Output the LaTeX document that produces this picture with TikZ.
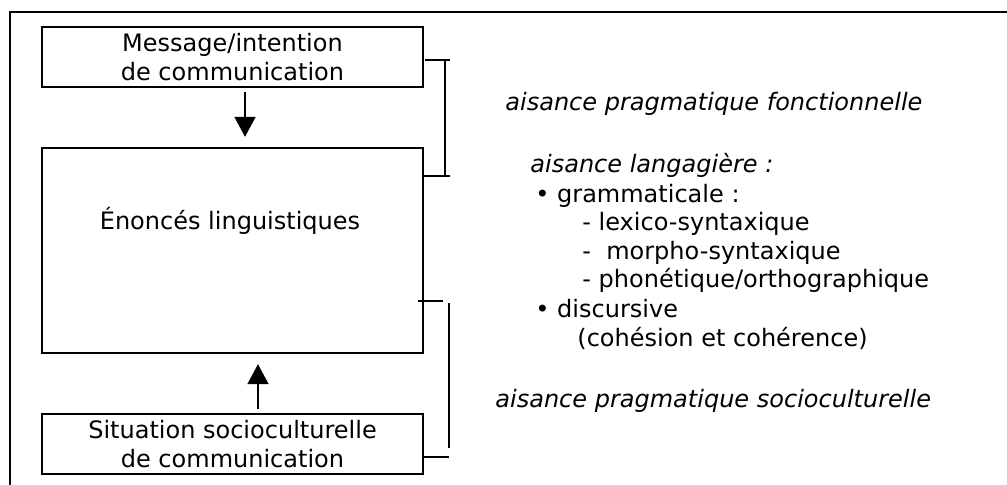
\documentclass[tikz,border=0pt]{standalone}
\usepackage{fontspec}
\setmainfont{DejaVu Sans}
\usetikzlibrary{arrows.meta,calc}
\begin{document}
\begin{tikzpicture}[x=0.5pt,y=-0.5pt,
  txt/.style={font=\fontsize{12}{14.3}\selectfont},
  box/.style={draw,line width=1.2pt,minimum width=190.5pt,inner sep=0pt,align=center,txt},
  lbl/.style={txt,inner sep=0pt,anchor=base west},
  brk/.style={line width=0.9pt},
  arr/.style={line width=1pt,-{Triangle[width=10.5pt,length=10pt]}}]
\useasboundingbox (0,0) rectangle (1007,485);
\clip (0,0) rectangle (1007,485);
\draw[line width=1pt] (10,12) rectangle (1040,520);
% boxes
\node[box,minimum height=30pt] (msg) at (232.5,57) {Message/intention\\de communication};
\node[box,minimum height=102.5pt] (mid) at (232.5,250.5) {};
\node[txt,anchor=base,inner sep=0pt] (midt) at (230,230) {Énoncés linguistiques};
\node[box,minimum height=30pt] (sit) at (232.5,444) {Situation socioculturelle\\de communication};
% arrows
\draw[arr] ($(msg.south)+(12.5,4)$) -- ($(mid.north)+(12.5,-10)$);
\draw[arr] ($(sit.north)+(25.5,-4)$) -- ($(mid.south)+(25.5,10)$);
% top bracket
\coordinate (t1) at (425,60);
\coordinate (t2) at (450,60);
\coordinate (t3) at (445,60);
\coordinate (t4) at (445,176);
\coordinate (t5) at (423,176);
\coordinate (t6) at (450,176);
\draw[brk] (t1) -- (t2);
\draw[brk] (t3) -- (t4);
\draw[brk] (t5) -- (t6);
% bottom bracket
\coordinate (u1) at (418,301);
\coordinate (u2) at (443,301);
\coordinate (u3) at (449,303);
\coordinate (u4) at (449,448);
\coordinate (u5) at (423,457);
\coordinate (u6) at (449,457);
\draw[brk] (u1) -- (u2);
\draw[brk] (u3) -- (u4);
\draw[brk] (u5) -- (u6);
% right texts
\node[lbl] (pf) at (505,111) {\itshape aisance pragmatique fonctionnelle};
\node[lbl] (al) at (530,173) {\itshape aisance langagière :};
\node[lbl] (gr) at (535,203) {• grammaticale :};
\node[lbl] (lx) at (582,231) {- lexico-syntaxique};
\node[lbl] (mo) at (582,260) {-\ \ morpho-syntaxique};
\node[lbl] (ph) at (582,288) {- phonétique/orthographique};
\node[lbl] (di) at (535,318) {• discursive};
\node[lbl] (co) at (577,347) {(cohésion et cohérence)};
\node[lbl] (ps) at (495,408) {\itshape aisance pragmatique socioculturelle};
\end{tikzpicture}
\end{document}
